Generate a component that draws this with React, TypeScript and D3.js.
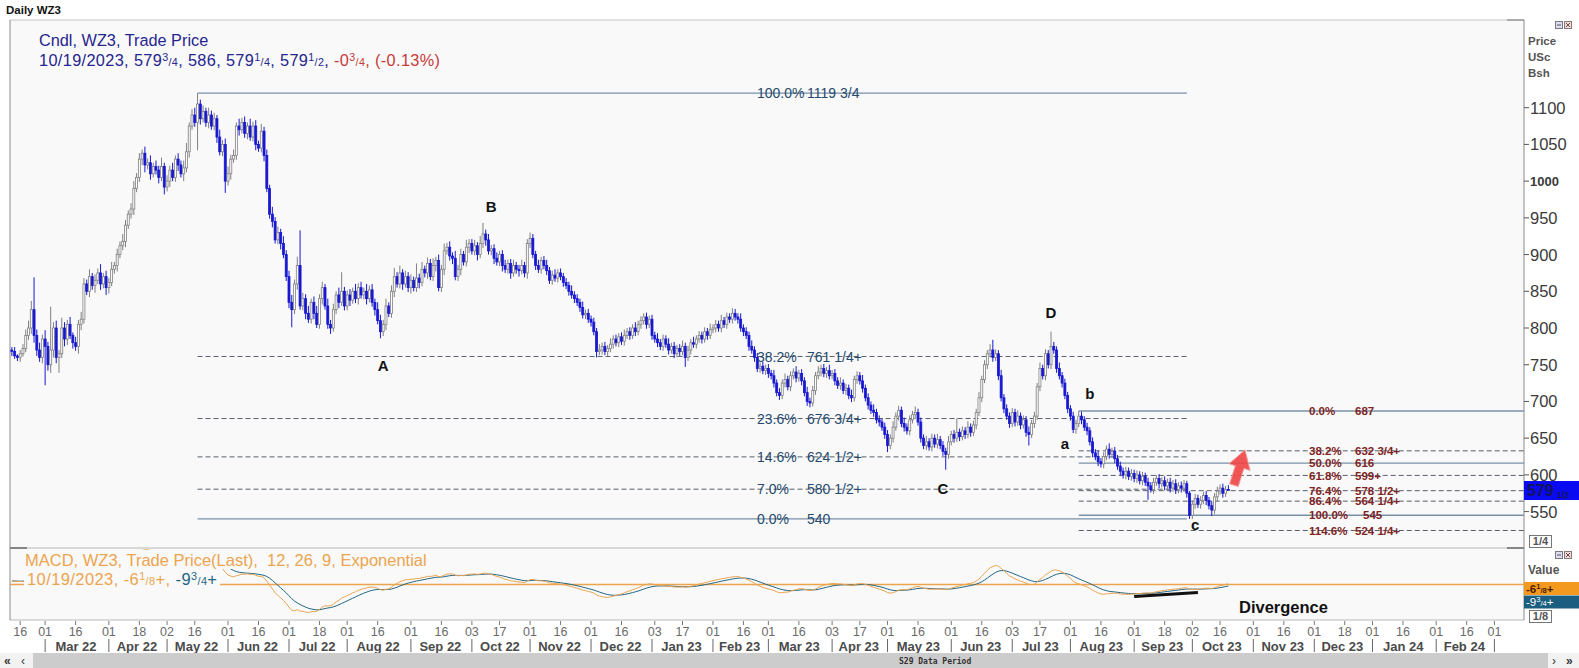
import React from 'react';
import * as d3 from 'd3';

const W = 1579;
const H = 668;
const FONT = "'Liberation Sans', Arial, sans-serif";

// weekdays from axisStart; index 0 is Feb 16 2022
const axisStart = '2022-02-11';
const axisEnd = '2024-03-08';

// daily closes, one per weekday, Feb 11 2022 .. Oct 19 2023
const closes = [
  // Feb 22
  768, 762, 760, 765, 772, 790, 800, 825, 790, 770, 760, 785,
  // Mar 22
  775, 750, 770, 800, 760, 765, 800, 785, 805, 790, 780, 775, 805, 812, 860, 850, 870, 858, 865, 875, 860, 870, 855,
  // Apr 22
  862, 880, 885, 900, 912, 918, 940, 955, 962, 990, 1005, 1030, 1038, 1022, 1025, 1010, 1020, 1015, 1005, 1020, 992,
  // May 22
  1000, 1015, 1005, 1030, 1022, 1010, 1018, 1040, 1075, 1090, 1080, 1105, 1085, 1095, 1080, 1090, 1075, 1085, 1060, 1040, 1050, 1000,
  // Jun 22
  1010, 1030, 1035, 1075, 1070, 1080, 1065, 1075, 1060, 1075, 1050, 1045, 1068, 1035, 990, 955, 945, 920, 930, 915, 900, 870,
  // Jul 22
  835, 825, 860, 885, 830, 840, 820, 812, 835, 820, 805, 840, 855, 830, 805, 800, 825, 845, 835, 850, 830,
  // Aug 22
  845, 838, 850, 840, 855, 845, 850, 840, 852, 835, 825, 810, 795, 805, 830, 820, 850, 870, 860, 875, 860, 870, 855,
  // Sep 22
  865, 855, 868, 862, 880, 875, 888, 870, 885, 892, 855, 880, 905, 910, 898, 895, 870, 880, 900, 890, 910, 915,
  // Oct 22
  905, 912, 900, 915, 928, 920, 905, 908, 895, 890, 900, 885, 880, 888, 875, 885, 880, 878, 885, 875, 915,
  // Nov 22
  922, 900, 885, 880, 892, 885, 878, 865, 872, 868, 875, 870, 862, 858, 850, 845, 840, 835, 828, 818, 820, 812,
  // Dec 22
  808, 795, 768, 770, 775, 768, 772, 778, 785, 780, 788, 782, 790, 795, 790, 800, 795, 805, 810, 815, 805, 812,
  // Jan 23
  790, 785, 780, 775, 785, 778, 770, 775, 765, 772, 768, 775, 760, 770, 780, 778, 785, 790, 785, 795, 790, 798,
  // Feb 23
  800, 805, 800, 810, 805, 815, 812, 820, 815, 812, 800, 795, 790, 775, 770, 760, 745, 748, 742, 745,
  // Mar 23
  738, 735, 725, 712, 708, 725, 730, 720, 735, 740, 732, 738, 728, 712, 700, 698, 715, 735, 740, 745, 738, 742, 735,
  // Apr 23
  738, 728, 722, 725, 715, 718, 708, 705, 730, 735, 728, 718, 705, 695, 688, 685, 675, 672, 665, 655,
  // May 23
  640, 650, 665, 680, 688, 670, 665, 660, 675, 682, 685, 672, 650, 640, 645, 638, 650, 642, 648, 640, 632, 628, 645,
  // Jun 23
  655, 650, 658, 652, 660, 655, 665, 658, 668, 685, 705, 730, 750, 765, 770, 760, 765, 735, 705, 690, 680, 670,
  // Jul 23
  685, 672, 680, 668, 675, 658, 655, 670, 680, 720, 745, 735, 765, 750, 775, 770, 745, 735, 725, 708, 690,
  // Aug 23
  680, 662, 670, 680, 675, 665, 660, 645, 630, 625, 618, 615, 625, 635, 628, 632, 622, 612, 605, 600, 605, 598, 602,
  // Sep 23
  595, 600, 592, 598, 590, 585, 580, 590, 595, 588, 592, 585, 590, 582, 588, 580, 585, 582, 588, 575, 545,
  // Oct 23
  560, 568, 560, 565, 572, 565, 558, 552, 570, 578, 582, 575, 580, 579.5,
];
const firstOpen = 770;

// how far the high sits above the body, per day
const upWick = [
  4, 6, 2, 5, 6, 8, 10, 12, 44, 8, 10, 6,
  12, 6, 59, 8, 10, 5, 14, 8, 6, 10, 4, 8, 6, 10, 8, 6, 10, 5, 8, 6, 12, 5, 8,
  6, 10, 5, 8, 6, 10, 7, 5, 8, 10, 6, 8, 5, 9, 6, 10, 5, 8, 6, 12, 5,
  8, 6, 10, 5, 8, 6, 10, 12, 5, 8, 10, 15, 6, 8, 5, 10, 6, 8, 5, 10, 6, 8,
  10, 6, 8, 5, 10, 6, 8, 5, 10, 6, 8, 5, 10, 6, 8, 5, 10, 6, 8, 5, 10, 6,
  8, 10, 6, 12, 48, 8, 6, 10, 5, 8, 10, 6, 8, 5, 10, 6, 8, 5, 10, 26, 6,
  6, 8, 5, 10, 6, 8, 5, 10, 6, 8, 5, 10, 8, 6, 10, 5, 8, 12, 6, 10, 5, 8, 6,
  8, 5, 20, 6, 10, 5, 8, 6, 10, 5, 8, 6, 10, 6, 8, 5, 10, 6, 8, 5, 10, 6,
  6, 8, 5, 10, 15, 6, 8, 5, 6, 8, 5, 6, 8, 5, 6, 8, 5, 6, 8, 5, 6,
  8, 6, 5, 8, 5, 6, 8, 5, 6, 8, 5, 6, 5, 6, 5, 8, 5, 6, 5, 8, 5, 6,
  5, 6, 5, 8, 5, 6, 5, 8, 5, 6, 5, 6, 8, 5, 6, 5, 8, 5, 6, 5, 6, 5,
  6, 5, 8, 5, 6, 5, 8, 5, 6, 5, 6, 8, 5, 6, 5, 8, 5, 6, 5, 6, 5, 8,
  5, 6, 5, 8, 5, 6, 5, 7, 6, 5, 8, 5, 6, 5, 8, 5, 6, 5, 6, 5,
  6, 5, 8, 5, 6, 5, 8, 5, 6, 5, 8, 5, 6, 5, 8, 5, 6, 5, 8, 5, 6, 5, 8,
  5, 6, 5, 8, 5, 6, 5, 8, 5, 6, 5, 8, 5, 6, 5, 8, 5, 6, 5, 6,
  6, 5, 8, 5, 6, 5, 8, 5, 6, 5, 8, 5, 6, 5, 8, 5, 6, 5, 8, 5, 6, 5, 8,
  5, 6, 19, 5, 6, 5, 8, 5, 6, 5, 8, 5, 6, 5, 8, 14, 6, 5, 8, 5, 6, 5,
  6, 5, 8, 5, 6, 5, 8, 5, 6, 5, 8, 5, 6, 5, 20, 6, 5, 8, 5, 6, 5,
  5, 6, 5, 7, 6, 5, 6, 5, 6, 5, 8, 5, 6, 5, 8, 5, 6, 5, 6, 5, 6, 5, 6,
  5, 6, 5, 6, 5, 6, 5, 6, 5, 6, 5, 6, 5, 6, 5, 6, 5, 6, 5, 4, 3,
  5, 6, 5, 6, 5, 6, 5, 6, 5, 6, 5, 6, 5, 6,
];

// how far the low sits below the body, per day
const dnWick = [
  6, 4, 5, 6, 4, 5, 6, 8, 10, 8, 6, 8,
  53, 8, 11, 10, 8, 21, 6, 10, 8, 5, 8, 6, 10, 8, 6, 5, 8, 6, 10, 5, 8, 6, 10,
  8, 5, 6, 8, 5, 6, 8, 5, 6, 8, 5, 6, 8, 10, 6, 8, 5, 6, 8, 5, 10,
  6, 8, 5, 6, 8, 5, 10, 6, 8, 5, 6, 38, 8, 5, 6, 8, 5, 6, 8, 5, 6, 16,
  6, 8, 5, 6, 8, 5, 6, 8, 5, 6, 8, 5, 6, 8, 5, 6, 8, 5, 6, 8, 5, 6,
  8, 24, 6, 8, 5, 6, 8, 5, 6, 8, 5, 6, 8, 5, 6, 8, 5, 6, 8, 5, 6,
  6, 8, 5, 6, 8, 5, 6, 8, 5, 6, 8, 5, 9, 6, 8, 5, 6, 8, 5, 6, 8, 5, 6,
  8, 5, 6, 8, 5, 6, 8, 5, 6, 8, 5, 6, 8, 5, 6, 8, 5, 6, 8, 5, 6, 8,
  5, 6, 8, 5, 6, 8, 5, 6, 8, 5, 6, 8, 5, 6, 8, 5, 6, 8, 5, 6, 8,
  6, 5, 6, 5, 6, 5, 6, 5, 6, 5, 6, 5, 6, 5, 6, 5, 6, 5, 6, 5, 6, 5,
  6, 5, 8, 5, 6, 5, 6, 5, 6, 5, 6, 5, 6, 5, 6, 5, 6, 5, 6, 5, 6, 5,
  6, 5, 6, 5, 6, 5, 6, 5, 6, 5, 6, 5, 13, 5, 6, 5, 6, 5, 6, 5, 6, 5,
  5, 6, 5, 6, 5, 6, 5, 6, 5, 6, 5, 6, 5, 6, 5, 6, 5, 6, 5, 6,
  6, 5, 6, 5, 6, 5, 6, 5, 6, 5, 6, 5, 6, 5, 6, 6, 5, 6, 5, 6, 5, 6, 5,
  5, 6, 5, 6, 5, 6, 5, 6, 5, 6, 5, 6, 5, 6, 5, 6, 5, 6, 5, 6,
  9, 5, 6, 5, 6, 5, 6, 5, 6, 5, 6, 5, 6, 5, 6, 5, 6, 5, 6, 5, 6, 21, 6,
  5, 6, 5, 6, 5, 6, 5, 6, 5, 6, 5, 6, 5, 6, 5, 6, 5, 6, 5, 6, 5, 6,
  5, 6, 5, 6, 5, 6, 15, 5, 6, 5, 6, 5, 6, 5, 6, 5, 6, 5, 6, 5, 6,
  6, 5, 6, 5, 6, 5, 6, 5, 6, 5, 6, 5, 6, 5, 6, 5, 6, 5, 6, 5, 6, 5, 6,
  5, 6, 5, 6, 5, 19, 4, 6, 5, 6, 5, 6, 5, 6, 5, 6, 5, 6, 5, 6, 5,
  5, 6, 5, 6, 5, 6, 5, 8, 5, 6, 5, 6, 5, 0.25,
];

const priceTicks = [1100, 1050, 1000, 950, 900, 850, 800, 750, 700, 650, 600, 550];

const dayTicks = [
  '2022-02-16', '2022-03-01', '2022-03-16', '2022-04-01', '2022-04-18', '2022-05-02', '2022-05-16',
  '2022-06-01', '2022-06-16', '2022-07-01', '2022-07-18', '2022-08-01', '2022-08-16', '2022-09-01',
  '2022-09-16', '2022-10-03', '2022-10-17', '2022-11-01', '2022-11-16', '2022-12-01', '2022-12-16',
  '2023-01-03', '2023-01-17', '2023-02-01', '2023-02-16', '2023-03-01', '2023-03-16', '2023-04-03',
  '2023-04-17', '2023-05-01', '2023-05-16', '2023-06-01', '2023-06-16', '2023-07-03', '2023-07-17',
  '2023-08-01', '2023-08-16', '2023-09-01', '2023-09-18', '2023-10-02', '2023-10-16', '2023-11-01',
  '2023-11-16', '2023-12-01', '2023-12-18', '2024-01-01', '2024-01-16', '2024-02-01', '2024-02-16',
  '2024-03-01',
];

// long retracement, 1119 3/4 high to 540 low
const bigFibPct = ['100.0%', '38.2%', '23.6%', '14.6%', '7.0%', '0.0%'];
const bigFibVal = [1119.75, 761.25, 676.75, 624.5, 580.5, 540];
const bigFibText = ['1119 3/4', '761 1/4+', '676 3/4+', '624 1/2+', '580 1/2+', '540'];
const bigFibSolid = [true, false, false, false, false, true];
const bigFibFrom = '2022-05-17';
const bigFibTo = '2023-09-28';

// short retracement from the b high
const smallFibPct = ['0.0%', '38.2%', '50.0%', '61.8%', '76.4%', '86.4%', '100.0%', '114.6%'];
const smallFibVal = [687, 632.75, 616, 599.25, 578.5, 564.25, 545, 524.25];
const smallFibText = ['687', '632 3/4+', '616', '599+', '578 1/2+', '564 1/4+', '545', '524 1/4+'];
const smallFibSolid = [true, false, true, false, false, false, true, false];
const smallFibFrom = '2023-08-04';

const waveText = ['A', 'B', 'C', 'D', 'a', 'b', 'c'];
const waveDate = ['2022-08-18', '2022-10-12', '2023-05-29', '2023-07-21', '2023-07-28', '2023-08-10', '2023-10-03'];
const wavePrice = [749, 966, 582, 821, 642, 711, 532];

const arrowDates = ['2023-10-23', '2023-10-27'];
const arrowPrices = [586, 634];

const divDates = ['2023-09-01', '2023-10-04'];
const divValues = [-27, -20];

// legend values
const legendDate = '10/19/2023';
const ohlcLegend = [[579, 3, 4], [586, 0, 0], [579, 1, 4], [579, 1, 2]];
const changeLegend = [0, 3, 4];
const changePct = '-0.13%';
const macdLegend = [6, 1, 8];
const signalLegend = [9, 3, 4];
const macdLastValue = -6.125;

const ema = (v: number[], n: number) => {
  const a = 2 / (n + 1);
  const out: number[] = [];
  v.forEach((d, k) => out.push(k ? out[k - 1] + a * (d - out[k - 1]) : d));
  return out;
};

const frac = (key: string, whole: string, num: number, den: number, fs: number) => {
  const parts = [<tspan key={key + 'w'}>{whole}</tspan>];
  if (num) {
    parts.push(<tspan key={key + 'n'} fontSize={fs * 0.66} dy={-fs * 0.33}>{num}</tspan>);
    parts.push(<tspan key={key + 'd'} fontSize={fs * 0.66} dy={fs * 0.33}>/{den}</tspan>);
  }
  return parts;
};

export default function App() {
  const parse = d3.timeParse('%Y-%m-%d');
  const fmt = d3.timeFormat('%Y-%m-%d');
  const days = d3.timeDay
    .range(parse(axisStart)!, parse(axisEnd)!)
    .filter((d) => d.getDay() !== 0 && d.getDay() !== 6);
  const dayIndex = new Map(days.map((d, k) => [fmt(d), k - 3]));
  const idx = (s: string) => dayIndex.get(s) ?? 0;

  const x = d3.scaleLinear().domain([0, 532]).range([20.2, 1494.4]);
  const y = d3.scaleLinear().domain([550, 1100]).range([511.6, 107.7]);
  const ym = d3.scaleLinear().domain([-67.3, 56.8]).range([620, 548]);

  const left = 10;
  const right = 1524;

  const candles = closes.map((c, k) => {
    const o = k ? closes[k - 1] : firstOpen;
    const hi = Math.max(o, c) + (upWick[k] ?? 4);
    const lo = Math.min(o, c) - (dnWick[k] ?? 4);
    return { i: k - 3, o, c, hi, lo };
  });

  const e12 = ema(closes, 12);
  const e26 = ema(closes, 26);
  const macd = e12.map((v, k) => v - e26[k]);
  const signal = ema(macd, 9);
  const macdLine = d3.line<number>().x((_, k) => x(k - 3)).y((v) => ym(v));

  // month boundaries on the axis
  const monthFmt = d3.timeFormat('%b %y');
  const bounds: { d: Date; i: number }[] = [];
  days.forEach((d, k) => {
    if (k > 0 && d.getMonth() !== days[k - 1].getMonth()) bounds.push({ d, i: k - 3 });
  });
  const shownBounds = bounds.filter((b) => b.d <= parse('2024-03-01')!);

  // arrow polygon
  const ax0 = x(idx(arrowDates[0])), ay0 = y(arrowPrices[0]);
  const ax1 = x(idx(arrowDates[1])), ay1 = y(arrowPrices[1]);
  const len = Math.hypot(ax1 - ax0, ay1 - ay0);
  const ux = (ax1 - ax0) / len, uy = (ay1 - ay0) / len;
  const nx = -uy, ny = ux;
  const hx = ax1 - ux * 18, hy = ay1 - uy * 18;
  const arrowPts = [
    [ax0 + nx * 4.5, ay0 + ny * 4.5], [hx + nx * 4.5, hy + ny * 4.5], [hx + nx * 11, hy + ny * 11],
    [ax1, ay1], [hx - nx * 11, hy - ny * 11], [hx - nx * 4.5, hy - ny * 4.5], [ax0 - nx * 4.5, ay0 - ny * 4.5],
  ].map((p) => p.join(',')).join(' ');

  const navy = '#25258f';
  const red = '#c83a3a';
  const orange = '#eca44f';
  const teal = '#1f6585';
  const fibBlue = '#27496d';
  const fibRed = '#7d2424';

  return (
    <svg width={W} height={H} style={{ position: 'absolute', left: 0, top: 0, display: 'block' }} fontFamily={FONT}>
      <defs>
        <clipPath id="plot"><rect x={left} y={20} width={right - left} height={528} /></clipPath>
        <clipPath id="macd"><rect x={left} y={548} width={right - left} height={72} /></clipPath>
      </defs>
      <rect width={W} height={H} fill="#ffffff" />
      <text x={6} y={14} fontSize={11.5} fontWeight="bold" fill="#111">Daily WZ3</text>

      {/* panels */}
      <rect x={left} y={20} width={right - left} height={528} fill="#f9f9f9" />
      <rect x={left} y={548} width={right - left} height={72} fill="#f9f9f9" />
      <line x1={left} x2={right} y1={20} y2={20} stroke="#c4c4c4" />
      <line x1={1507} x2={right} y1={20} y2={20} stroke="#777" />
      <line x1={left} x2={right} y1={548} y2={548} stroke="#b8b8b8" />
      <line x1={left} x2={27} y1={548} y2={548} stroke="#333" />
      <line x1={1507} x2={right} y1={548} y2={548} stroke="#333" />
      <line x1={left} x2={right} y1={620} y2={620} stroke="#b8b8b8" />
      <line x1={left} x2={left} y1={20} y2={620} stroke="#8a8a8a" />
      <line x1={right} x2={right} y1={20} y2={620} stroke="#8a8a8a" />

      {/* fib lines */}
      <g clipPath="url(#plot)">
        {bigFibVal.map((v, k) => (
          <line key={'bf' + k} x1={x(idx(bigFibFrom))} x2={x(idx(bigFibTo))} y1={y(v)} y2={y(v)}
            stroke={bigFibSolid[k] ? '#7890a8' : '#56606c'} strokeWidth={bigFibSolid[k] ? 1.3 : 1}
            strokeDasharray={bigFibSolid[k] ? undefined : '5,3'} />
        ))}
        {smallFibVal.map((v, k) => (
          <line key={'sf' + k} x1={x(idx(smallFibFrom))} x2={right} y1={y(v)} y2={y(v)}
            stroke={smallFibSolid[k] ? '#7890a8' : '#56606c'} strokeWidth={smallFibSolid[k] ? 1.3 : 1}
            strokeDasharray={smallFibSolid[k] ? undefined : '5,3'} />
        ))}

        {/* candles */}
        {candles.map((d) => {
          const up = d.c >= d.o;
          const cx = x(d.i);
          const top = y(Math.max(d.o, d.c));
          const h = Math.max(0.8, y(Math.min(d.o, d.c)) - top);
          const col = up ? '#808080' : '#1818d0';
          return (
            <g key={'c' + d.i}>
              <line x1={cx} x2={cx} y1={y(d.hi)} y2={y(d.lo)} stroke={col} strokeWidth={1} />
              <rect x={cx - 1} y={top} width={2} height={h} fill={up ? '#ffffff' : col} stroke={col} strokeWidth={0.8} />
            </g>
          );
        })}
      </g>

      {/* fib labels */}
      {bigFibVal.map((v, k) => (
        <g key={'bl' + k} fontSize={14} fill={fibBlue}>
          <text x={757} y={y(v)} dy="0.36em">{bigFibPct[k]}</text>
          <text x={807} y={y(v)} dy="0.36em">{bigFibText[k]}</text>
        </g>
      ))}
      {smallFibVal.map((v, k) => (
        <g key={'sl' + k} fontSize={11.5} fontWeight="bold" fill={fibRed}>
          <text x={1309} y={y(v)} dy="0.36em">{smallFibPct[k]}</text>
          <text x={smallFibPct[k] === '100.0%' ? 1363 : 1355} y={y(v)} dy="0.36em">{smallFibText[k]}</text>
        </g>
      ))}

      {/* wave labels */}
      {waveText.map((t, k) => (
        <text key={'w' + k} x={x(idx(waveDate[k]))} y={y(wavePrice[k])} dy="0.36em" textAnchor="middle"
          fontSize={15} fontWeight="bold" fill="#111">{t}</text>
      ))}

      <polygon points={arrowPts} fill="#ef4444" fillOpacity={0.9} stroke="#f59a9a" strokeWidth={1} />

      {/* price legend */}
      <text x={39} y={46} fontSize={16.3} fill={navy}>Cndl, WZ3, Trade Price</text>
      <text x={39} y={66} fontSize={16.3} fill={navy} textLength={401} lengthAdjust="spacing">
        <tspan>{legendDate}, </tspan>
        {ohlcLegend.map((p, k) => [
          ...frac('o' + k, String(p[0]), p[1], p[2], 16.3),
          <tspan key={'sep' + k}>, </tspan>,
        ])}
        <tspan fill={red}>-</tspan>
        {frac('chg', String(changeLegend[0]), changeLegend[1], changeLegend[2], 16.3).map((el) =>
          React.cloneElement(el, { fill: red }))}
        <tspan fill={red}>, ({changePct})</tspan>
      </text>

      {/* MACD panel */}
      <g clipPath="url(#macd)">
        <line x1={left} x2={right} y1={ym(macdLastValue)} y2={ym(macdLastValue)} stroke={orange} strokeWidth={1.3} />
        <path d={macdLine(signal) ?? ''} fill="none" stroke={teal} strokeWidth={1} />
        <path d={macdLine(macd) ?? ''} fill="none" stroke={orange} strokeWidth={1} />
        <line x1={x(idx(divDates[0]))} x2={x(idx(divDates[1]))} y1={ym(divValues[0])} y2={ym(divValues[1])}
          stroke="#111" strokeWidth={3} />
        <rect x={24} y={550} width={406} height={19} fill="#f9f9f9" />
        <rect x={24} y={569} width={196} height={20} fill="#f9f9f9" />
      </g>
      <text x={25} y={566} fontSize={16.5} fill={orange}>MACD, WZ3, Trade Price(Last),{'\u00a0\u00a0'}12, 26, 9, Exponential</text>
      <text x={27} y={585} fontSize={16.5} fill={orange} textLength={190} lengthAdjust="spacing">
        <tspan>{legendDate}, -</tspan>
        {frac('m', String(macdLegend[0]), macdLegend[1], macdLegend[2], 16.5)}
        <tspan>+, </tspan>
        <tspan fill={teal}>-</tspan>
        {frac('s', String(signalLegend[0]), signalLegend[1], signalLegend[2], 16.5).map((el) =>
          React.cloneElement(el, { fill: teal }))}
        <tspan fill={teal}>+</tspan>
      </text>
      <text x={1239} y={613} fontSize={16.5} fontWeight="bold" fill="#111">Divergence</text>

      {/* right price axis */}
      {priceTicks.map((t) => (
        <g key={'pt' + t}>
          <line x1={right} x2={right + 5} y1={y(t)} y2={y(t)} stroke="#555" />
          <text x={1530} y={y(t)} dy="0.36em" fontSize={t === 1000 ? 13 : 16.5}
            fontWeight={t === 1000 ? 'bold' : 'normal'} fill="#3a3a3a">{t}</text>
        </g>
      ))}
      <g fontSize={11.5} fontWeight="bold" fill="#555">
        <text x={1528} y={45}>Price</text>
        <text x={1528} y={61}>USc</text>
        <text x={1528} y={77}>Bsh</text>
      </g>
      <rect x={right} y={481} width={W - right} height={19} fill="#0a0af2" />
      <text x={1527} y={496} fontSize={16} fontWeight="bold" fill="#14145a">
        579<tspan fontSize={9} dx={3} dy={2}>1/2</tspan>
      </text>
      <rect x={1529.5} y={535.5} width={22} height={12} fill="#fff" stroke="#777" />
      <text x={1540.5} y={545} fontSize={11} fontWeight="bold" fill="#555" textAnchor="middle">1/4</text>

      {/* window icons */}
      {[21, 551].map((iy) => (
        <g key={'ic' + iy}>
          <rect x={1555.5} y={iy + 0.5} width={7} height={7} fill="#dde" stroke="#778" />
          <line x1={1557} x2={1561} y1={iy + 4} y2={iy + 4} stroke="#556" />
          <rect x={1564.5} y={iy + 0.5} width={7} height={7} fill="#edd" stroke="#877" />
          <path d={`M1566,${iy + 2} L1570,${iy + 6} M1570,${iy + 2} L1566,${iy + 6}`} stroke="#744" />
        </g>
      ))}

      {/* right MACD axis */}
      <text x={1528} y={574} fontSize={12} fontWeight="bold" fill="#555">Value</text>
      <rect x={right} y={582} width={W - right} height={13} fill="#f39a1e" />
      <text x={1526} y={592.5} fontSize={11.5} fontWeight="bold" fill="#4a1e00">
        -{frac('bm', String(macdLegend[0]), macdLegend[1], macdLegend[2], 11.5)}+
      </text>
      <rect x={right} y={595.5} width={W - right} height={13} fill="#1b5e80" />
      <text x={1526} y={606} fontSize={11.5} fill="#ffffff">
        -{frac('bs', String(signalLegend[0]), signalLegend[1], signalLegend[2], 11.5)}+
      </text>
      <rect x={1529.5} y={610.5} width={22} height={12} fill="#fff" stroke="#777" />
      <text x={1540.5} y={620} fontSize={11} fontWeight="bold" fill="#555" textAnchor="middle">1/8</text>

      {/* time axis */}
      {dayTicks.map((s) => {
        const tx = x(idx(s));
        return (
          <g key={'dt' + s}>
            <line x1={tx} x2={tx} y1={621} y2={625} stroke="#777" />
            <text x={tx} y={635.5} fontSize={12.5} fill="#6a6a6a" textAnchor="middle">{s.slice(8)}</text>
          </g>
        );
      })}
      {shownBounds.map((b) => (
        <line key={'mb' + b.i} x1={x(b.i)} x2={x(b.i)} y1={639} y2={652} stroke="#666" />
      ))}
      {shownBounds.slice(0, -1).map((b, k) => (
        <text key={'ml' + b.i} x={(x(b.i) + x(shownBounds[k + 1].i)) / 2 - 1} y={650.5} fontSize={13}
          fontWeight="bold" fill="#4a4a4a" textAnchor="middle">{monthFmt(b.d)}</text>
      ))}

      {/* scroll bar */}
      <rect x={0} y={653} width={W} height={15} fill="#f2f2f2" />
      <rect x={33} y={653} width={1515} height={15} fill="#cccccc" />
      <text x={4} y={665} fontSize={12} fontWeight="bold" fill="#333">«</text>
      <text x={21} y={665} fontSize={12} fill="#333">‹</text>
      <text x={1552} y={665} fontSize={12} fill="#333">›</text>
      <text x={1566} y={665} fontSize={12} fontWeight="bold" fill="#333">»</text>
      <text x={899} y={664} fontSize={8} fontWeight="bold" fontFamily="'DejaVu Sans Mono', monospace" fill="#333">S29 Data Period</text>
    </svg>
  );
}
